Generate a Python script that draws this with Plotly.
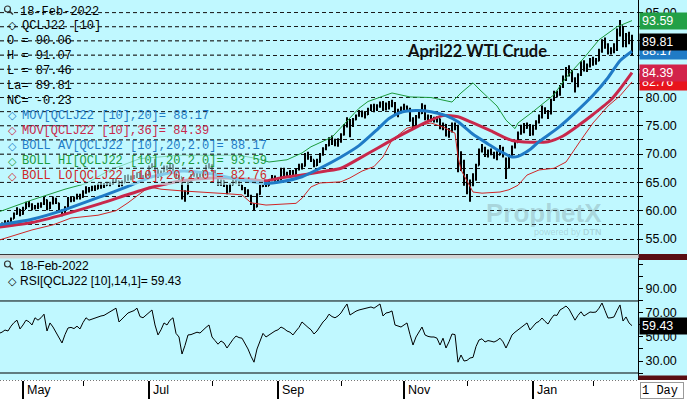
import datetime as dt
import plotly.graph_objects as go

# ---------------- canvas geometry (pixels) ----------------
W, H = 687, 399
ML, MR, MT, MB = 0, 49, 0, 19
PW, PH = W - ML - MR, H - MT - MB   # plot area 638 x 380


def px(x):
    return x / PW


def py(y):
    return (PH - y) / PH


# ---------------- data ----------------
# trading days (categories)
days_2021_04 = [21, 22, 23, 26, 27, 28, 29, 30]
days_2021_05 = [3, 4, 5, 6, 7, 10, 11, 12, 13, 14, 17, 18, 19, 20, 21, 24, 25, 26, 27, 28]
days_2021_06 = [1, 2, 3, 4, 7, 8, 9, 10, 11, 14, 15, 16, 17, 18, 21, 22, 23, 24, 25, 28, 29, 30]
days_2021_07 = [1, 2, 6, 7, 8, 9, 12, 13, 14, 15, 16, 19, 20, 21, 22, 23, 26, 27, 28, 29, 30]
days_2021_08 = [2, 3, 4, 5, 6, 9, 10, 11, 12, 13, 16, 17, 18, 19, 20, 23, 24, 25, 26, 27, 30, 31]
days_2021_09 = [1, 2, 3, 7, 8, 9, 10, 13, 14, 15, 16, 17, 20, 21, 22, 23, 24, 27, 28, 29, 30]
days_2021_10 = [1, 4, 5, 6, 7, 8, 11, 12, 13, 14, 15, 18, 19, 20, 21, 22, 25, 26, 27, 28, 29]
days_2021_11 = [1, 2, 3, 4, 5, 8, 9, 10, 11, 12, 15, 16, 17, 18, 19, 22, 23, 24, 26, 29, 30]
days_2021_12 = [1, 2, 3, 6, 7, 8, 9, 10, 13, 14, 15, 16, 17, 20, 21, 22, 23, 27, 28, 29, 30, 31]
days_2022_01 = [3, 4, 5, 6, 7, 10, 11, 12, 13, 14, 18, 19, 20, 21, 24, 25, 26, 27, 28, 31]
days_2022_02 = [1, 2, 3, 4, 7, 8, 9, 10, 11, 14, 15, 16, 17, 18]

month_days = [("2021-04", days_2021_04), ("2021-05", days_2021_05), ("2021-06", days_2021_06),
              ("2021-07", days_2021_07), ("2021-08", days_2021_08), ("2021-09", days_2021_09),
              ("2021-10", days_2021_10), ("2021-11", days_2021_11), ("2021-12", days_2021_12),
              ("2022-01", days_2022_01), ("2022-02", days_2022_02)]
trade_dates = [f"{ym}-{d:02d}" for ym, days in month_days for d in days]

price_open = [
    57.2, 57.4, 57.5, 58.0, 57.9, 58.6, 59.4, 60.2,
    59.4, 60.3, 61.2, 61.1, 60.5, 60.7, 60.8, 61.2, 61.9, 60.4, 61.3, 62.0, 61.3, 59.9, 59.4, 60.5, 62.0, 61.9, 62.2, 62.6,
    62.4, 63.2, 63.8, 63.6, 64.1, 63.9, 64.4, 64.3, 64.5, 64.8, 64.7, 65.4, 65.2, 64.6, 65.0, 66.0, 65.7, 65.8, 66.0, 66.5, 65.8, 65.9,
    66.3, 67.8, 68.0, 67.2, 66.5, 66.9, 67.8, 67.5, 68.1, 66.9, 65.8, 65.9, 62.4, 63.0, 65.1, 66.3, 66.5, 66.4, 66.3, 66.9, 67.8,
    68.0, 67.0, 66.5, 64.6, 65.3, 64.5, 63.4, 64.6, 65.3, 65.2, 64.6, 64.0, 63.4, 62.6, 61.2, 60.7, 62.9, 64.3, 65.0, 64.4, 65.4, 65.8,
    65.5, 65.5, 66.8, 66.5, 66.1, 66.9, 66.4, 67.3, 67.8, 67.9, 69.8, 69.5, 69.0, 68.0, 68.6, 69.9, 70.9, 71.5, 72.6, 72.3, 71.9,
    72.3, 73.4, 75.0, 75.9, 75.0, 76.1, 76.8, 77.4, 77.2, 77.0, 77.8, 78.4, 78.0, 78.5, 79.0, 77.9, 78.8, 78.6, 79.0, 77.3, 77.6,
    78.1, 78.4, 78.0, 76.0, 74.9, 76.6, 77.2, 78.5, 76.4, 76.7, 76.1, 76.1, 76.2, 74.6, 75.2, 73.4, 74.0, 75.1, 74.6, 67.4, 68.6,
    65.0, 63.3, 64.6, 65.5, 68.0, 70.6, 71.0, 69.8, 70.5, 70.2, 69.7, 69.9, 71.1, 69.0, 67.6, 69.8, 71.2, 72.1, 73.6, 74.0, 74.6, 75.0,
    73.6, 74.5, 75.6, 76.5, 78.1, 77.6, 77.2, 79.6, 80.8, 80.5, 81.9, 83.3, 84.6, 84.6, 83.3, 82.0, 84.0, 85.5, 85.1, 85.6,
    86.7, 86.4, 86.5, 88.3, 89.8, 89.4, 88.0, 88.3, 88.5, 91.3, 92.6, 89.6, 91.0, 90.06,
]
price_high = [
    57.9, 57.9, 58.3, 58.3, 58.8, 59.7, 60.6, 60.3,
    60.7, 61.6, 61.7, 61.3, 61.0, 61.4, 61.5, 62.4, 62.0, 61.6, 62.5, 62.3, 61.4, 60.2, 60.8, 62.4, 62.4, 62.5, 63.0, 63.0,
    63.6, 64.3, 64.2, 64.4, 64.5, 64.8, 64.9, 64.9, 65.1, 65.1, 65.7, 65.8, 65.3, 65.4, 66.3, 66.4, 66.2, 66.3, 66.8, 66.8, 66.3, 66.7,
    68.0, 68.4, 69.2, 67.3, 67.1, 68.0, 68.0, 68.5, 68.2, 66.9, 66.3, 65.9, 63.6, 65.3, 66.5, 66.9, 66.7, 66.8, 67.2, 68.1, 68.4,
    68.2, 67.2, 66.6, 65.5, 65.4, 64.6, 64.8, 65.6, 65.6, 65.3, 64.6, 64.2, 63.8, 62.8, 61.3, 63.1, 64.6, 65.2, 65.3, 65.6, 66.3, 66.2,
    65.9, 67.6, 67.6, 66.9, 67.2, 67.2, 67.5, 68.3, 68.4, 70.2, 70.4, 69.7, 69.0, 69.2, 70.2, 71.2, 71.8, 73.0, 73.3, 72.7, 72.8,
    73.7, 75.3, 76.5, 76.2, 76.4, 77.0, 77.8, 77.7, 77.5, 78.2, 78.8, 78.9, 78.8, 79.3, 79.4, 79.1, 79.4, 79.6, 79.2, 78.0, 78.4,
    78.9, 78.6, 78.2, 76.5, 76.9, 77.5, 79.0, 78.7, 77.0, 76.9, 76.6, 76.7, 76.3, 75.6, 75.3, 74.6, 75.6, 75.6, 75.2, 70.5, 69.0,
    66.5, 65.5, 66.6, 68.3, 71.0, 71.8, 71.3, 70.8, 71.0, 70.4, 70.5, 71.6, 71.3, 69.4, 70.0, 71.5, 72.4, 74.0, 75.2, 75.5, 75.6, 75.3,
    75.2, 76.0, 77.0, 78.6, 78.3, 77.8, 79.8, 81.2, 81.2, 82.2, 83.9, 85.4, 85.7, 84.9, 83.6, 84.3, 86.4, 86.6, 86.0, 87.0,
    87.2, 87.0, 88.6, 90.3, 90.6, 89.6, 88.9, 89.6, 92.2, 93.7, 92.6, 91.4, 91.6, 91.07,
]
price_low = [
    57.0, 57.0, 57.4, 57.5, 57.8, 58.6, 59.3, 59.0,
    59.3, 60.3, 60.6, 60.1, 60.2, 60.3, 60.5, 61.0, 60.1, 60.3, 61.1, 61.2, 59.7, 59.0, 59.3, 60.4, 61.5, 61.6, 62.0, 62.0,
    62.3, 63.0, 63.2, 63.5, 63.5, 63.8, 63.9, 64.0, 64.4, 64.3, 64.6, 64.9, 64.2, 64.3, 65.0, 65.3, 65.4, 65.6, 65.8, 65.6, 65.4, 65.7,
    66.2, 67.5, 66.7, 65.8, 65.9, 66.8, 67.1, 67.3, 66.6, 65.6, 65.3, 62.0, 61.6, 62.9, 64.9, 66.0, 65.7, 65.8, 66.0, 66.8, 67.4,
    66.8, 66.1, 64.4, 64.4, 64.2, 62.9, 63.3, 64.5, 64.8, 64.4, 63.6, 62.9, 62.4, 61.0, 60.0, 60.6, 62.8, 64.2, 64.2, 64.4, 65.2, 65.1,
    64.9, 65.4, 66.1, 65.9, 65.9, 66.0, 66.4, 67.1, 67.3, 67.8, 69.0, 68.6, 67.7, 67.9, 68.5, 69.7, 70.7, 71.4, 71.6, 71.4, 71.3,
    72.0, 73.3, 74.7, 73.0, 74.8, 76.0, 76.6, 76.5, 76.3, 76.9, 77.6, 77.4, 77.6, 78.2, 77.6, 77.7, 77.9, 78.3, 77.1, 76.5, 77.2,
    77.7, 77.6, 75.7, 74.3, 74.8, 76.3, 77.1, 76.0, 75.9, 75.7, 75.6, 75.6, 74.4, 74.2, 73.1, 72.9, 73.8, 74.2, 66.8, 67.0, 64.4,
    62.9, 61.6, 64.3, 65.3, 68.0, 70.3, 69.5, 69.4, 69.8, 69.2, 68.9, 69.8, 69.4, 65.6, 67.4, 69.7, 71.0, 72.0, 73.4, 73.7, 74.5, 73.2,
    73.3, 74.3, 75.4, 76.3, 77.1, 76.2, 77.0, 79.4, 80.0, 80.3, 81.7, 82.9, 83.7, 82.7, 80.9, 81.8, 83.8, 84.6, 84.5, 85.3,
    85.6, 85.8, 86.4, 87.9, 88.6, 87.6, 87.6, 87.8, 88.2, 90.8, 88.9, 88.9, 89.4, 87.46,
]
price_close = [
    57.4, 57.5, 58.0, 57.9, 58.6, 59.4, 60.2, 59.3,
    60.3, 61.2, 61.1, 60.5, 60.7, 60.8, 61.2, 61.9, 60.3, 61.3, 62.0, 61.4, 59.9, 59.3, 60.4, 62.1, 61.9, 62.2, 62.6, 62.3,
    63.2, 63.8, 63.6, 64.1, 63.9, 64.4, 64.3, 64.5, 64.8, 64.7, 65.4, 65.2, 64.6, 65.0, 66.0, 65.7, 65.8, 66.0, 66.5, 65.8, 65.9, 66.3,
    67.8, 68.0, 67.2, 66.5, 66.9, 67.8, 67.5, 68.1, 66.9, 65.8, 65.9, 62.3, 63.0, 65.1, 66.3, 66.5, 66.4, 66.3, 66.9, 67.8, 68.1,
    67.0, 66.5, 64.6, 65.3, 64.6, 63.3, 64.6, 65.3, 65.2, 64.7, 64.0, 63.5, 62.7, 61.4, 60.6, 62.9, 64.3, 65.0, 64.4, 65.4, 65.8, 65.5,
    65.5, 66.8, 66.5, 66.1, 66.9, 66.4, 67.3, 67.8, 67.9, 69.8, 69.5, 69.0, 68.0, 68.6, 69.9, 70.9, 71.5, 72.6, 72.3, 71.9, 72.3,
    73.4, 75.0, 75.9, 75.0, 76.1, 76.8, 77.4, 77.2, 77.0, 77.8, 78.4, 78.0, 78.5, 79.0, 77.9, 78.8, 78.6, 79.0, 77.3, 77.6, 78.0,
    78.4, 78.0, 76.0, 74.9, 76.6, 77.2, 78.5, 76.4, 76.7, 76.1, 76.1, 76.2, 74.6, 75.2, 73.4, 74.0, 75.1, 75.0, 67.3, 68.6, 65.0,
    63.3, 64.6, 64.8, 67.9, 70.6, 71.0, 69.8, 70.5, 70.2, 69.7, 69.9, 71.1, 69.7, 67.3, 69.8, 71.2, 72.1, 73.6, 74.0, 74.6, 75.0, 73.5,
    74.5, 75.6, 76.5, 78.1, 77.6, 77.2, 79.6, 80.8, 80.5, 81.9, 83.3, 84.6, 84.6, 83.3, 82.0, 84.0, 85.5, 85.1, 85.6, 86.6,
    86.4, 86.5, 88.2, 89.8, 89.4, 88.0, 88.3, 88.5, 91.3, 92.6, 89.6, 91.0, 90.04, 89.81,
]
rsi_vals = [
    53, 54, 55.8, 55, 59, 62, 64, 56.7,
    60, 64, 62.7, 60, 66, 64, 66, 69, 55, 61.7, 58.3, 54, 50, 45, 52, 57.5, 58, 57, 59, 56.7,
    62, 66, 64, 65, 66, 66.5, 67.5, 68, 69.5, 71, 72, 74, 62.5, 65, 67.5, 70, 71, 72, 74, 67, 66, 68,
    70, 72.5, 60, 51.7, 56, 61.7, 60, 64, 66, 53, 50, 35.8, 43, 51.7, 52, 53, 54, 53.3, 56, 58, 60,
    50, 47, 44, 46.7, 45, 40.8, 45, 48, 50.8, 49.5, 49, 45, 40, 34, 29, 40, 45.8, 53, 50, 51.7, 54, 55,
    56, 58.3, 57, 55, 54, 51.7, 55, 58, 62.5, 60, 58, 56, 52.5, 55, 59, 62.5, 65, 69, 67, 66, 67.5,
    70, 74, 77.5, 68.3, 70, 71.5, 72.5, 73, 74, 74, 75, 74, 76, 77.5, 67.5, 70, 70.5, 71.7, 60, 59, 58.3,
    60, 61.7, 52, 43.3, 50, 54, 58.3, 51.7, 50.5, 50, 50, 49, 43.3, 49, 40.8, 46, 52.5, 52, 29, 35, 30,
    30.5, 32.5, 33, 42, 47.5, 48.5, 45.8, 47, 46.5, 45.8, 47, 49, 46, 40.8, 46, 51.7, 54, 56, 58.3, 60, 61.7, 55.8,
    59, 61.7, 63, 65.8, 63, 60.8, 65, 68.3, 68, 72.5, 74, 75.8, 73.3, 68, 64, 68, 71, 67.5, 69, 70.8,
    70.5, 70.8, 74, 78.3, 72, 65.8, 66, 66.7, 72, 76.7, 63.3, 66.7, 61.7, 59.43,
]

# indicators
ma20_dates = ["2021-04-21", "2021-05-06", "2021-05-21", "2021-06-09", "2021-06-22", "2021-07-02",
              "2021-07-19", "2021-08-02", "2021-08-13", "2021-08-26", "2021-09-02", "2021-09-14",
              "2021-09-22", "2021-10-01", "2021-10-11", "2021-10-19", "2021-10-25", "2021-10-29",
              "2021-11-05", "2021-11-12", "2021-11-19", "2021-11-26", "2021-12-03", "2021-12-10",
              "2021-12-16", "2021-12-22", "2021-12-27", "2021-12-31", "2022-01-05", "2022-01-13",
              "2022-01-24", "2022-02-01", "2022-02-08", "2022-02-14", "2022-02-18"]
ma20_vals = [57.5, 58.5, 60.2, 62.5, 64.3, 66.0, 67.0, 66.5, 65.5, 64.8, 65.1, 66.0, 67.5, 69.5,
             71.5, 74.3, 76.3, 77.4, 77.7, 77.5, 76.8, 75.7, 73.5, 71.8, 70.5, 69.5, 69.6, 70.8,
             72.2, 74.5, 77.3, 80.4, 83.5, 86.5, 88.17]

ma36_dates = ["2021-04-21", "2021-05-06", "2021-05-21", "2021-06-09", "2021-07-01", "2021-07-19",
              "2021-08-02", "2021-08-13", "2021-08-26", "2021-09-02", "2021-09-14", "2021-09-24",
              "2021-10-01", "2021-10-11", "2021-10-19", "2021-10-27", "2021-11-03", "2021-11-11",
              "2021-11-18", "2021-11-26", "2021-12-03", "2021-12-13", "2021-12-22", "2021-12-31",
              "2022-01-10", "2022-01-18", "2022-01-25", "2022-02-01", "2022-02-09", "2022-02-14",
              "2022-02-18"]
ma36_vals = [57.1, 57.9, 59.4, 61.3, 64.0, 65.3, 65.8, 65.7, 65.3, 65.8, 66.3, 67.0, 67.5, 69.2,
             71.0, 72.8, 74.2, 75.8, 76.8, 76.6, 75.5, 74.1, 72.4, 72.1, 72.2, 73.2, 75.0, 77.0,
             79.6, 81.5, 84.39]

bb_hi_dates = ["2021-04-21", "2021-05-06", "2021-05-21", "2021-06-02", "2021-06-14", "2021-06-28",
               "2021-07-16", "2021-08-13", "2021-08-23", "2021-08-27", "2021-09-07", "2021-09-14",
               "2021-09-17", "2021-09-28", "2021-10-06", "2021-10-11", "2021-10-14", "2021-10-22",
               "2021-10-26", "2021-11-03", "2021-11-12", "2021-11-23", "2021-11-29", "2021-12-03",
               "2021-12-07", "2021-12-15", "2021-12-20", "2021-12-23", "2021-12-27", "2022-01-03",
               "2022-01-12", "2022-01-19", "2022-01-27", "2022-02-03", "2022-02-11", "2022-02-18"]
bb_hi_vals = [59.8, 61.9, 63.8, 64.8, 67.2, 69.2, 69.8, 69.8, 69.2, 68.6, 69.0, 70.2, 71.3, 73.0,
              76.4, 78.1, 79.3, 80.5, 80.8, 80.1, 80.0, 79.2, 80.8, 82.6, 81.5, 78.5, 76.0, 74.5,
              75.5, 77.5, 80.5, 83.5, 87.0, 90.2, 92.5, 93.59]

bb_lo_dates = ["2021-04-21", "2021-05-06", "2021-05-17", "2021-05-25", "2021-06-08", "2021-06-16",
               "2021-06-22", "2021-06-28", "2021-07-01", "2021-07-08", "2021-07-19", "2021-08-09",
               "2021-08-16", "2021-08-19", "2021-08-26", "2021-09-10", "2021-09-14", "2021-09-17",
               "2021-09-22", "2021-10-01", "2021-10-06", "2021-10-12", "2021-10-18", "2021-10-21",
               "2021-10-26", "2021-11-02", "2021-11-08", "2021-11-12", "2021-11-18", "2021-11-24",
               "2021-11-26", "2021-11-29", "2021-12-03", "2021-12-08", "2021-12-16", "2021-12-21",
               "2021-12-27", "2021-12-30", "2022-01-05", "2022-01-12", "2022-01-19", "2022-01-21",
               "2022-01-26", "2022-02-01", "2022-02-08", "2022-02-14", "2022-02-18"]
bb_lo_vals = [54.8, 56.6, 57.5, 58.7, 59.2, 60.0, 61.4, 63.0, 64.2, 63.8, 63.5, 63.0, 62.8, 61.4,
              61.0, 61.3, 62.2, 64.2, 64.9, 65.1, 65.8, 67.0, 67.8, 69.5, 72.5, 74.6, 75.1, 75.5,
              74.8, 73.7, 69.5, 67.2, 63.3, 63.1, 63.3, 63.7, 64.5, 66.3, 67.2, 67.5, 68.6, 70.2,
              72.5, 75.5, 78.5, 80.3, 82.76]

holidays = ["2021-05-31", "2021-07-05", "2021-09-06", "2021-11-25", "2021-12-24", "2022-01-17", "2022-02-21"]
month_ticks = ["2021-05-03", "2021-07-01", "2021-09-01", "2021-11-01", "2022-01-03"]
month_labels = ["May", "Jul", "Sep", "Nov", "Jan"]
minor_month_ticks = ["2021-06-01", "2021-08-02", "2021-10-01", "2021-12-01", "2022-02-01"]
price_ticks = [55, 60, 65, 70, 75, 80, 85, 90, 95]
price_minor_ticks = [57.5, 62.5, 67.5, 72.5, 77.5, 82.5, 87.5, 92.5]
rsi_ticks = [30, 50, 70, 90]
rsi_bands = [80, 20]

symbol = "QCLJ22 [10]"
title_text = "April22 WTI Crude"

# ---------------- styles ----------------
BG = "rgb(192,248,255)"
BLUE = "#1F7BC6"
CRIMSON = "#C8284B"
GREEN = "#1C9A3C"
RED = "#D02626"
GRID = "#1a1a1a"
MONO = "Liberation Mono"
SANS = "Liberation Sans"

x_range = ["2021-04-21 08:00", "2022-02-23 00:00"]
rbreaks = [dict(bounds=["sat", "mon"]), dict(values=holidays)]

fig = go.Figure()
fig.add_trace(go.Scatter(x=bb_hi_dates, y=bb_hi_vals, mode="lines", line=dict(color=GREEN, width=1),
                         xaxis="x", yaxis="y", hoverinfo="skip"))
fig.add_trace(go.Scatter(x=bb_lo_dates, y=bb_lo_vals, mode="lines", line=dict(color=RED, width=1),
                         xaxis="x", yaxis="y", hoverinfo="skip"))
fig.add_trace(go.Scatter(x=ma36_dates, y=ma36_vals, mode="lines",
                         line=dict(color=CRIMSON, width=3, shape="spline", smoothing=0.6),
                         xaxis="x", yaxis="y", hoverinfo="skip"))
fig.add_trace(go.Scatter(x=ma20_dates, y=ma20_vals, mode="lines",
                         line=dict(color=BLUE, width=3, shape="spline", smoothing=0.6),
                         xaxis="x", yaxis="y", hoverinfo="skip"))
fig.add_trace(go.Ohlc(x=trade_dates, open=price_open, high=price_high, low=price_low, close=price_close,
                      increasing=dict(line=dict(color="black", width=2)),
                      decreasing=dict(line=dict(color="black", width=2)),
                      tickwidth=0.35, xaxis="x", yaxis="y", hoverinfo="skip"))
fig.add_trace(go.Scatter(x=trade_dates, y=rsi_vals, mode="lines", line=dict(color="black", width=1),
                         xaxis="x2", yaxis="y2", hoverinfo="skip"))

main_dom = [py(254), 1]
rsi_dom = [0, py(258)]

shapes = []
# bottom time strip
shapes.append(dict(type="rect", xref="paper", yref="paper", x0=-0.01, x1=1.1, y0=py(H), y1=0,
                   fillcolor="white", line=dict(width=0), layer="below"))
# separator between panels
shapes.append(dict(type="rect", xref="paper", yref="paper", x0=0, x1=1, y0=py(258.5), y1=py(254),
                   fillcolor="#d4d4d4", line=dict(width=0), layer="above"))
shapes.append(dict(type="line", xref="paper", yref="paper", x0=0, x1=1, y0=py(254.5), y1=py(254.5),
                   line=dict(color="#3a3a3a", width=1), layer="above"))
# dark blocks on the axis column
shapes.append(dict(type="rect", xref="paper", yref="paper", x0=px(638.5), x1=px(W), y0=py(260), y1=py(254),
                   fillcolor="#5a0e12", line=dict(width=0), layer="above"))
shapes.append(dict(type="rect", xref="paper", yref="paper", x0=px(638.5), x1=px(W), y0=py(380), y1=py(375.5),
                   fillcolor="#5a0e12", line=dict(width=0), layer="above"))
# RSI 80/20 lines
for b in rsi_bands:
    shapes.append(dict(type="line", xref="paper", yref="y2", x0=0, x1=1, y0=b, y1=b,
                       line=dict(color="black", width=1), layer="below"))
# dotted time axis
shapes.append(dict(type="line", xref="paper", yref="paper", x0=0, x1=1, y0=py(380.5), y1=py(380.5),
                   line=dict(color="#777777", width=1, dash="1px,2px"), layer="above"))
# translucent legend backdrop
shapes.append(dict(type="rect", xref="paper", yref="paper", x0=0, x1=px(264), y0=py(185), y1=1,
                   fillcolor="rgba(192,248,255,0.62)", line=dict(width=0), layer="above"))
# grid lines redrawn over the legend backdrop
for v in price_ticks + price_minor_ticks:
    if v >= 65:
        shapes.append(dict(type="line", xref="paper", yref="y", x0=0, x1=px(264), y0=v, y1=v,
                           line=dict(color=GRID, width=1, dash="4px,3px"), layer="above"))
# magnifier icons
for cy in (9, 264):
    shapes.append(dict(type="circle", xref="paper", yref="paper", x0=px(4.5), x1=px(10.5),
                       y0=py(cy + 3), y1=py(cy - 3), line=dict(color="#333", width=1.2), layer="above"))
    shapes.append(dict(type="line", xref="paper", yref="paper", x0=px(9.5), x1=px(13),
                       y0=py(cy + 2), y1=py(cy + 5.5), line=dict(color="#333", width=1.5), layer="above"))

ann = []


def text_at(x, y, text, color="black", size=12, family=MONO, **kw):
    d = dict(x=px(x), y=py(y), xref="paper", yref="paper", xanchor="left", yanchor="middle",
             text=text, showarrow=False, font=dict(color=color, size=size, family=family))
    d.update(kw)
    ann.append(d)


last_day = dt.datetime.strptime(trade_dates[-1], "%Y-%m-%d").strftime("%d-%b-%Y")
o, hi, lo, c, prev = price_open[-1], price_high[-1], price_low[-1], price_close[-1], price_close[-2]

text_at(18, 12, last_day)
legend_rows = [
    (26, symbol, "black", True),
    (41, f"O = {o:.2f}", "black", False),
    (56, f"H = {hi:.2f}", "black", False),
    (71, f"L = {lo:.2f}", "black", False),
    (86, f"La= {c:.2f}", "black", False),
    (101, f"NC= {c - prev:.2f}", "black", False),
    (116, f"MOV[{symbol},20]= {ma20_vals[-1]:.2f}", BLUE, True),
    (131, f"MOV[{symbol},36]= {ma36_vals[-1]:.2f}", CRIMSON, True),
    (146, f"BOLL AV[{symbol},20,2.0]= {ma20_vals[-1]:.2f}", BLUE, True),
    (161, f"BOLL HI[{symbol},20,2.0]= {bb_hi_vals[-1]:.2f}", GREEN, True),
    (176, f"BOLL LO[{symbol},20,2.0]= {bb_lo_vals[-1]:.2f}", RED, True),
]
for y, t, col, diamond in legend_rows:
    if diamond:
        text_at(6, y, "◇", color=col, size=11, family="DejaVu Sans")
        text_at(20, y, t, color=col)
    else:
        text_at(5, y, t, color=col)

# chart title
text_at(405, 51, f"<b>{title_text}</b>", color="#111", size=16.5, family="Lato")

# watermark
ann.append(dict(x=px(604), y=py(213), xref="paper", yref="paper", xanchor="right", yanchor="middle",
                text="<b>ProphetX</b>", showarrow=False,
                font=dict(color="rgba(120,140,145,0.33)", size=26, family=SANS)))
ann.append(dict(x=px(604), y=py(232), xref="paper", yref="paper", xanchor="right", yanchor="middle",
                text="powered by <b>DTN</b>", showarrow=False,
                font=dict(color="rgba(120,140,145,0.33)", size=9, family=SANS)))


def value_box(val, color, yref="y"):
    ann.append(dict(x=px(639), y=val, xref="paper", yref=yref, xanchor="left", yanchor="middle",
                    text=f"{val:.2f}", showarrow=False, bgcolor=color, width=43, height=12,
                    borderpad=2, align="left", font=dict(color="white", size=12.5, family=SANS)))


value_box(bb_hi_vals[-1], "#22A046")
value_box(ma20_vals[-1], BLUE)
value_box(price_close[-1], "black")
value_box(bb_lo_vals[-1], "#E8141C")
value_box(ma36_vals[-1], "#D2234A")
value_box(rsi_vals[-1], "black", yref="y2")

# RSI legend
text_at(18, 265.5, last_day, size=12, family=SANS)
text_at(6, 281, "◇", size=11, family="DejaVu Sans")
text_at(18, 281, f"RSI[{symbol},14,1]= {rsi_vals[-1]:.2f}", size=12, family=SANS)

# month labels
for d, lab in zip(month_ticks, month_labels):
    ann.append(dict(x=d, y=py(390), xref="x2", yref="paper", xanchor="left", yanchor="middle",
                    xshift=2, text=lab, showarrow=False, font=dict(color="black", size=12.5, family=SANS)))

# period box
ann.append(dict(x=px(640), y=py(390), xref="paper", yref="paper", xanchor="left", yanchor="middle",
                text="1 Day", showarrow=False, bgcolor="white", bordercolor="#9a9a9a", borderwidth=1,
                width=40, height=13, borderpad=1, align="left",
                font=dict(color="black", size=12, family=MONO)))

fig.update_layout(
    width=W, height=H, margin=dict(l=ML, r=MR, t=MT, b=MB, autoexpand=False),
    paper_bgcolor=BG, plot_bgcolor=BG, showlegend=False,
    font=dict(family=SANS, size=12.5, color="black"),
    xaxis=dict(domain=[0, 1], anchor="y", type="date", range=x_range, rangebreaks=rbreaks,
               showticklabels=False, ticks="", showgrid=False, zeroline=False, showline=False,
               rangeslider=dict(visible=False), fixedrange=True),
    xaxis2=dict(domain=[0, 1], anchor="y2", type="date", range=x_range, rangebreaks=rbreaks, matches="x",
                tickmode="array", tickvals=month_ticks, ticks="outside", ticklen=18, tickwidth=1.5,
                tickcolor="black", showticklabels=False, showgrid=False, zeroline=False, showline=False,
                minor=dict(tickvals=minor_month_ticks, ticks="outside", ticklen=5, tickwidth=1,
                           tickcolor="black", showgrid=False)),
    yaxis=dict(domain=main_dom, anchor="x", side="right", range=[52.35, 97.23],
               tickmode="array", tickvals=price_ticks, tickformat=".2f",
               ticks="outside", ticklen=4, tickcolor="black",
               showgrid=True, gridcolor=GRID, gridwidth=1, griddash="4px,3px",
               minor=dict(tickvals=price_minor_ticks, ticks="outside", ticklen=4, tickcolor="black",
                          showgrid=True, gridcolor=GRID, gridwidth=1, griddash="4px,3px"),
               showline=True, linecolor="black", linewidth=1, zeroline=False,
               tickfont=dict(size=12.5, family=SANS, color="black"), automargin=False),
    yaxis2=dict(domain=rsi_dom, anchor="x2", side="right", range=[14.17, 115.8],
                tickmode="array", tickvals=rsi_ticks, tickformat=".2f",
                ticks="outside", ticklen=4, tickcolor="black",
                minor=dict(dtick=10, ticks="outside", ticklen=4, tickcolor="black", showgrid=False),
                showgrid=False, showline=True, linecolor="black", linewidth=1, zeroline=False,
                tickfont=dict(size=12.5, family=SANS, color="black"), automargin=False),
    shapes=shapes,
    annotations=ann,
)

fig.write_html("out.html", config={"displayModeBar": False, "staticPlot": True},
               post_script="document.body.style.margin='0';document.body.style.padding='0';"
                           "document.body.style.overflow='hidden';")
